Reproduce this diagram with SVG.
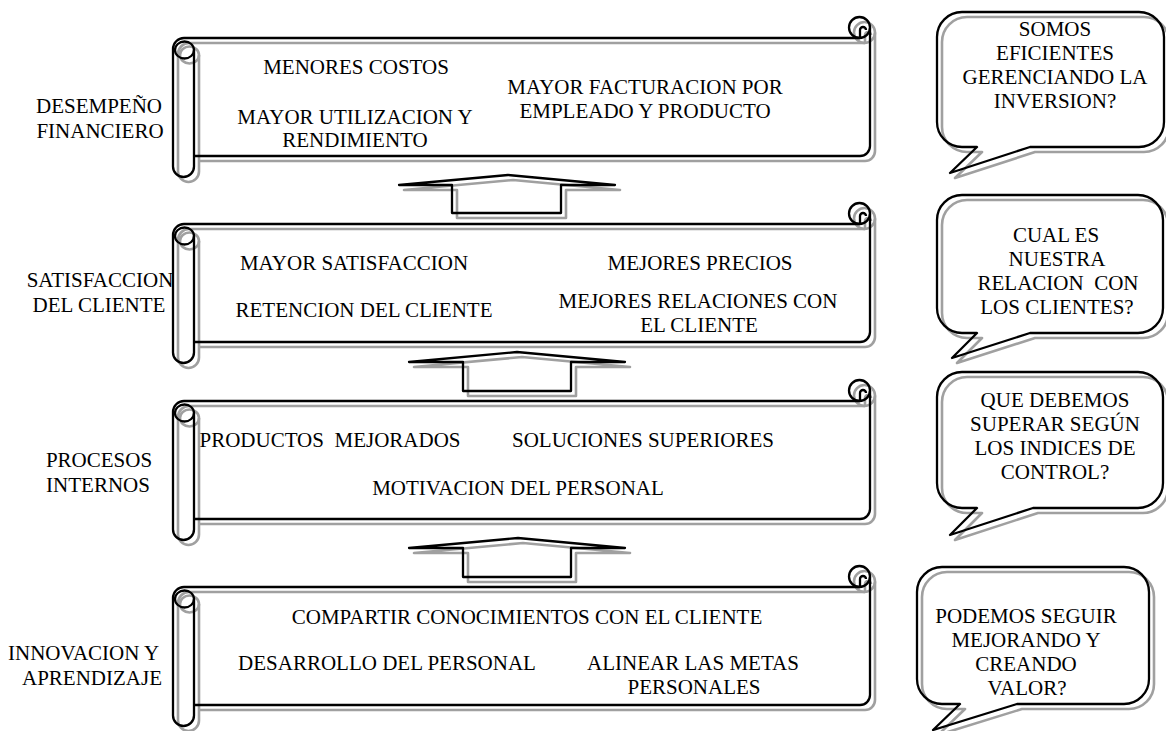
<svg xmlns="http://www.w3.org/2000/svg" xmlns:xlink="http://www.w3.org/1999/xlink" width="1166" height="731" viewBox="0 0 1166 731" font-family="'Liberation Serif', 'Times New Roman', serif">
<style>
.sh{fill:none;stroke:#a0a0a0;stroke-width:2.6;stroke-linejoin:round}
.ln{fill:none;stroke:#000;stroke-width:2.3;stroke-linejoin:round}
text{font-family:'Liberation Serif','Times New Roman',serif;font-size:21px;fill:#000}
.c{text-anchor:middle}
</style>
<defs>
<g id="scroll">
<path d="M184,0 H860 M870,-10.5 V108 A10,10 0 0 1 860,118 H194 M194,12 V128.5 A10.5,10.5 0 0 1 173,128.5 V11 A11,11 0 0 1 184,0 M860,0 V-8 A3,3 0 0 1 866,-8"/>
<circle cx="859.5" cy="-10.5" r="10.5"/>
<ellipse cx="184.5" cy="12" rx="9.5" ry="8.5"/>
</g>
</defs>
<rect width="1166" height="731" fill="#fff"/>

<g id="connectors">
<g transform="translate(5,5)" class="sh">
<path d="M399,185 L508,175 L615,185 L561,185 L561,213 L452,213 L452,185 Z"/>
<path d="M409,362 L517,352 L625,362 L571,362 L571,391 L463,391 L463,362 Z"/>
<path d="M409,548 L518,538 L625,548 L571,548 L571,577 L463,577 L463,548 Z"/>
</g>
<g class="ln">
<path d="M399,185 L508,175 L615,185 L561,185 L561,213 L452,213 L452,185 Z"/>
<path d="M409,362 L517,352 L625,362 L571,362 L571,391 L463,391 L463,362 Z"/>
<path d="M409,548 L518,538 L625,548 L571,548 L571,577 L463,577 L463,548 Z"/>
</g>
</g>

<g id="scroll-financiero">
<use xlink:href="#scroll" href="#scroll" class="sh" transform="translate(5,43)"/>
<use xlink:href="#scroll" href="#scroll" class="ln" transform="translate(0,38)"/>
<text class="c" x="356" y="74">MENORES COSTOS</text>
<text class="c" x="355" y="124">MAYOR UTILIZACION Y</text>
<text class="c" x="355" y="147">RENDIMIENTO</text>
<text class="c" x="645" y="94">MAYOR FACTURACION POR</text>
<text class="c" x="645" y="118">EMPLEADO Y PRODUCTO</text>
</g>

<g id="scroll-cliente">
<use xlink:href="#scroll" href="#scroll" class="sh" transform="translate(5,229)"/>
<use xlink:href="#scroll" href="#scroll" class="ln" transform="translate(0,224)"/>
<text class="c" x="354" y="270">MAYOR SATISFACCION</text>
<text class="c" x="364" y="317">RETENCION DEL CLIENTE</text>
<text class="c" x="700" y="270">MEJORES PRECIOS</text>
<text class="c" x="698" y="308">MEJORES RELACIONES CON</text>
<text class="c" x="699" y="332">EL CLIENTE</text>
</g>

<g id="scroll-procesos">
<use xlink:href="#scroll" href="#scroll" class="sh" transform="translate(5,406)"/>
<use xlink:href="#scroll" href="#scroll" class="ln" transform="translate(0,401)"/>
<text class="c" x="330" y="447" xml:space="preserve">PRODUCTOS  MEJORADOS</text>
<text class="c" x="643" y="447">SOLUCIONES SUPERIORES</text>
<text class="c" x="518" y="495">MOTIVACION DEL PERSONAL</text>
</g>

<g id="scroll-innovacion">
<use xlink:href="#scroll" href="#scroll" class="sh" transform="translate(5,592)"/>
<use xlink:href="#scroll" href="#scroll" class="ln" transform="translate(0,587)"/>
<text class="c" x="527" y="624">COMPARTIR CONOCIMIENTOS CON EL CLIENTE</text>
<text class="c" x="387" y="670">DESARROLLO DEL PERSONAL</text>
<text class="c" x="693" y="670">ALINEAR LAS METAS</text>
<text class="c" x="694" y="694">PERSONALES</text>
</g>

<g id="label-financiero">
<text class="c" x="99" y="113">DESEMPEÑO</text>
<text class="c" x="100" y="138">FINANCIERO</text>
</g>
<g id="label-cliente">
<text class="c" x="100" y="287">SATISFACCION</text>
<text class="c" x="99" y="312">DEL CLIENTE</text>
</g>
<g id="label-procesos">
<text class="c" x="99" y="467">PROCESOS</text>
<text class="c" x="98" y="492">INTERNOS</text>
</g>
<g id="label-innovacion">
<text x="8" y="660">INNOVACION Y</text>
<text x="22" y="685">APRENDIZAJE</text>
</g>

<g id="bubble-1">
<path class="sh" transform="translate(5,5)" d="M962,12 H1139 A25,25 0 0 1 1164,37 V122 A25,25 0 0 1 1139,147 H1030 L950,173 L977,147 H962 A25,25 0 0 1 937,122 V37 A25,25 0 0 1 962,12 Z"/>
<path class="ln" d="M962,12 H1139 A25,25 0 0 1 1164,37 V122 A25,25 0 0 1 1139,147 H1030 L950,173 L977,147 H962 A25,25 0 0 1 937,122 V37 A25,25 0 0 1 962,12 Z"/>
<text class="c" x="1055" y="36">SOMOS</text>
<text class="c" x="1055" y="60">EFICIENTES</text>
<text class="c" x="1055" y="84">GERENCIANDO LA</text>
<text class="c" x="1055" y="108">INVERSION?</text>
</g>

<g id="bubble-2">
<path class="sh" transform="translate(5,5)" d="M962,195 H1138 A25,25 0 0 1 1163,220 V308 A25,25 0 0 1 1138,333 H1030 L952,358 L977,333 H962 A25,25 0 0 1 937,308 V220 A25,25 0 0 1 962,195 Z"/>
<path class="ln" d="M962,195 H1138 A25,25 0 0 1 1163,220 V308 A25,25 0 0 1 1138,333 H1030 L952,358 L977,333 H962 A25,25 0 0 1 937,308 V220 A25,25 0 0 1 962,195 Z"/>
<text class="c" x="1056" y="242">CUAL ES</text>
<text class="c" x="1057" y="266">NUESTRA</text>
<text class="c" x="1058" y="290" xml:space="preserve">RELACION  CON</text>
<text class="c" x="1057" y="314">LOS CLIENTES?</text>
</g>

<g id="bubble-3">
<path class="sh" transform="translate(5,5)" d="M962,372 H1138 A25,25 0 0 1 1163,397 V483 A25,25 0 0 1 1138,508 H1033 L950,535 L977,508 H962 A25,25 0 0 1 937,483 V397 A25,25 0 0 1 962,372 Z"/>
<path class="ln" d="M962,372 H1138 A25,25 0 0 1 1163,397 V483 A25,25 0 0 1 1138,508 H1033 L950,535 L977,508 H962 A25,25 0 0 1 937,483 V397 A25,25 0 0 1 962,372 Z"/>
<text class="c" x="1055" y="407">QUE DEBEMOS</text>
<text class="c" x="1055" y="431">SUPERAR SEGÚN</text>
<text class="c" x="1055" y="455">LOS INDICES DE</text>
<text class="c" x="1055" y="479">CONTROL?</text>
</g>

<g id="bubble-4">
<path class="sh" transform="translate(5,5)" d="M942,567 H1124 A25,25 0 0 1 1149,592 V679 A25,25 0 0 1 1124,704 H1017 L933,730 L960,704 H942 A25,25 0 0 1 917,679 V592 A25,25 0 0 1 942,567 Z"/>
<path class="ln" d="M942,567 H1124 A25,25 0 0 1 1149,592 V679 A25,25 0 0 1 1124,704 H1017 L933,730 L960,704 H942 A25,25 0 0 1 917,679 V592 A25,25 0 0 1 942,567 Z"/>
<text class="c" x="1026" y="623">PODEMOS SEGUIR</text>
<text class="c" x="1026" y="647">MEJORANDO Y</text>
<text class="c" x="1026" y="671">CREANDO</text>
<text class="c" x="1027" y="695">VALOR?</text>
</g>
</svg>
